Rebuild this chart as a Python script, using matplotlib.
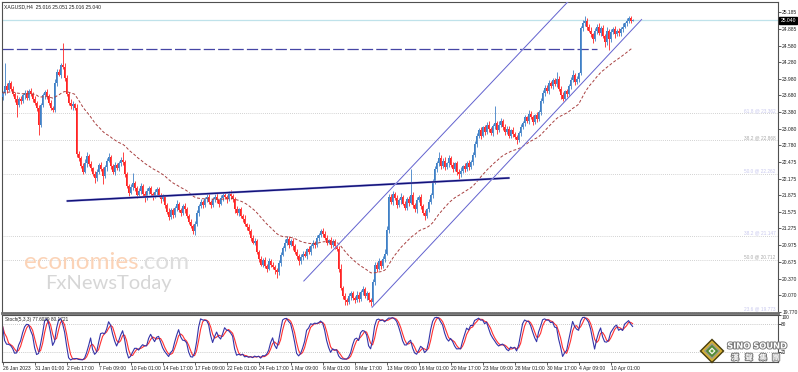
import numpy as np
import pandas as pd
import matplotlib
matplotlib.use('Agg')
import matplotlib.pyplot as plt
import matplotlib.transforms as mtransforms
import matplotlib.patheffects as pe
from matplotlib.patches import Polygon

plt.rcParams['font.family'] = ['Liberation Sans', 'DejaVu Sans']

# XAGUSD H4 candles (open = previous close)
first_open = 23.65
closes = [
    23.72, 23.85, 23.78, 23.90, 23.80, 23.70, 23.62, 23.50, 23.62, 23.58, 23.68, 23.72, 23.64, 23.76, 23.70, 23.62, 23.55,
    23.45, 23.15, 23.50, 23.68, 23.74, 23.66,
    23.55, 23.45, 23.42, 23.90, 24.10, 24.05, 24.22, 24.20, 24.00, 23.70, 23.55, 23.48, 23.52, 23.45,
    22.62,
    22.55, 22.40, 22.30, 22.45, 22.58, 22.44, 22.36, 22.25, 22.18, 22.30, 22.42, 22.35, 22.22, 22.38, 22.50, 22.56,
    22.40, 22.30, 22.42, 22.36, 22.45, 22.52, 22.48,
    22.25, 22.05, 21.92, 22.02,
    22.10, 22.00, 21.88, 21.95, 22.05, 21.90, 21.82, 21.95, 22.00, 21.90, 21.85, 21.93, 21.98, 21.88, 21.80, 21.84,
    21.70, 21.58, 21.48, 21.60, 21.52,
    21.65, 21.72, 21.60, 21.55, 21.68, 21.62, 21.50, 21.40, 21.32, 21.22, 21.35,
    21.55, 21.68, 21.75, 21.70, 21.80, 21.85, 21.75, 21.70, 21.80, 21.85, 21.78, 21.72, 21.82, 21.88, 21.85, 21.80,
    21.90, 21.86, 21.80,
    21.62, 21.55, 21.62, 21.50, 21.45, 21.35, 21.30, 21.22, 21.10, 21.02, 21.05,
    20.85, 20.72, 20.62, 20.70, 20.60, 20.55, 20.68, 20.62, 20.58, 20.52, 20.48, 20.65,
    20.80, 20.92, 21.02, 21.08, 20.98, 21.05, 20.95, 20.85, 20.78,
    20.68, 20.75, 20.82, 20.78, 20.90, 20.85, 20.95, 21.02, 20.98, 21.10,
    21.15, 21.22, 21.18, 21.10, 21.02, 21.06, 20.98, 21.04, 20.95, 20.90,
    20.55, 20.20, 20.05,
    19.98, 19.95, 20.05, 20.10, 20.02, 19.98, 20.08, 20.00, 20.12, 20.18, 20.05, 20.10, 19.98, 19.95,
    20.30, 20.62, 20.55, 20.68, 20.60, 20.72, 20.82,
    21.25, 21.85,
    21.75, 21.90, 21.82, 21.70, 21.78, 21.85, 21.72, 21.65, 21.80, 21.74, 21.88, 21.70, 21.62, 21.78, 21.85, 21.68,
    21.55, 21.50, 21.62, 21.75, 21.88,
    22.10, 22.35, 22.45, 22.55,
    22.40, 22.50, 22.38, 22.45, 22.55, 22.42, 22.35, 22.45, 22.30, 22.25, 22.32,
    22.40, 22.35, 22.45, 22.38, 22.48, 22.60,
    22.80, 22.95, 23.05,
    22.95, 23.10, 23.02, 23.15, 23.08, 23.00, 23.12, 23.18,
    23.05, 23.15, 23.22, 23.10, 23.02, 23.08, 22.95, 23.05, 22.98, 22.92, 22.88, 23.00,
    23.10, 23.18, 23.28, 23.22, 23.35, 23.28, 23.20, 23.32, 23.25, 23.38,
    23.58, 23.72, 23.82,
    23.75, 23.90, 23.85, 23.95, 23.88, 23.98, 23.80,
    23.68, 23.62, 23.75, 23.70,
    23.85, 23.95, 24.05, 23.92, 23.98, 24.08,
    24.90, 24.98, 25.02,
    24.92, 24.85, 24.78, 24.70, 24.85,
    24.92, 24.80, 24.90, 24.75, 24.65, 24.85,
    24.70, 24.82, 24.88, 24.78, 24.85,
    24.80, 24.88, 24.92, 24.98, 25.02,
    25.08, 25.016, 25.040,
]

# wick lengths above / below the body, in cents
wick_hi = [
    4, 41, 5, 6, 3, 5, 4, 6, 3, 5, 4, 6, 5, 3, 6, 4, 5, 3, 6, 4,
    5, 3, 6, 4, 5, 3, 8, 6, 5, 4, 40, 6, 5, 4, 6, 5, 3, 8, 6, 4,
    5, 8, 8, 4, 5, 3, 6, 5, 4, 6, 3, 5, 4, 8, 5, 4, 6, 3, 5, 4,
    14, 4, 5, 3, 6, 17, 4, 5, 6, 4, 3, 5, 6, 4, 5, 3, 6, 4, 5, 3,
    5, 4, 3, 6, 4, 5, 3, 6, 4, 5, 3, 6, 4, 3, 5, 4, 6, 5, 4, 6,
    3, 5, 4, 6, 3, 5, 4, 6, 3, 5, 4, 6, 3, 5, 7, 4, 5, 6, 3, 5,
    4, 6, 3, 5, 4, 6, 5, 4, 3, 6, 4, 5, 3, 6, 4, 5, 3, 4, 6, 5,
    4, 6, 6, 5, 3, 6, 4, 5, 3, 6, 4, 5, 3, 6, 4, 5, 3, 6, 4, 5,
    7, 4, 5, 3, 6, 4, 5, 3, 6, 8, 4, 5, 3, 6, 4, 5, 3, 6, 4, 5,
    6, 4, 5, 3, 4, 6, 5, 4, 6, 3, 5, 8, 6, 5, 4, 6, 3, 5, 4, 6,
    3, 5, 4, 6, 46, 5, 4, 6, 3, 5, 4, 6, 3, 5, 4, 6, 5, 4, 11, 5,
    4, 6, 3, 5, 4, 6, 3, 5, 4, 6, 3, 5, 4, 6, 3, 5, 6, 5, 4, 6,
    3, 5, 4, 6, 3, 5, 30, 4, 6, 5, 3, 6, 4, 5, 3, 6, 4, 5, 3, 6,
    4, 5, 3, 6, 4, 5, 3, 6, 4, 5, 6, 5, 4, 6, 3, 5, 4, 12, 5, 4,
    6, 3, 5, 4, 6, 9, 4, 5, 3, 4, 6, 10, 5, 4, 6, 3, 5, 4, 6, 3,
    5, 4, 6, 3, 5, 4, 6, 3, 5, 4, 6, 3, 5, 4, 3, 1,
]
wick_lo = [
    5, 4, 6, 3, 5, 4, 6, 21, 4, 5, 3, 6, 4, 5, 3, 6, 4, 5, 19, 4,
    3, 6, 4, 5, 3, 5, 4, 6, 3, 5, 4, 6, 3, 5, 4, 6, 3, 5, 6, 4,
    5, 3, 6, 4, 5, 3, 8, 4, 5, 3, 15, 4, 6, 3, 5, 4, 6, 3, 5, 4,
    6, 5, 4, 6, 3, 5, 4, 6, 3, 5, 4, 6, 3, 5, 4, 6, 3, 5, 4, 6,
    3, 5, 4, 6, 3, 5, 4, 6, 3, 5, 4, 6, 3, 5, 4, 5, 6, 3, 5, 4,
    6, 3, 5, 4, 6, 3, 5, 4, 6, 3, 5, 4, 6, 3, 5, 4, 6, 3, 5, 4,
    6, 3, 5, 4, 6, 3, 5, 4, 6, 3, 5, 4, 6, 3, 5, 4, 6, 10, 4, 5,
    3, 6, 4, 5, 3, 6, 4, 5, 6, 4, 5, 3, 6, 4, 5, 3, 6, 4, 5, 3,
    6, 4, 5, 3, 6, 4, 5, 3, 6, 4, 5, 8, 5, 4, 6, 3, 5, 4, 6, 3,
    5, 4, 6, 3, 7, 5, 4, 6, 3, 5, 4, 6, 3, 5, 4, 6, 3, 5, 4, 6,
    3, 5, 4, 6, 3, 5, 4, 6, 3, 5, 4, 8, 3, 5, 4, 6, 3, 5, 4, 6,
    3, 5, 4, 6, 3, 5, 4, 6, 9, 5, 4, 6, 3, 5, 4, 6, 3, 5, 4, 6,
    3, 5, 4, 6, 3, 5, 4, 6, 3, 5, 4, 6, 3, 5, 4, 6, 3, 8, 4, 6,
    3, 5, 4, 6, 3, 5, 4, 6, 3, 5, 4, 6, 3, 5, 4, 6, 3, 5, 4, 6,
    5, 3, 5, 4, 6, 3, 5, 4, 6, 3, 5, 4, 6, 3, 5, 8, 4, 6, 3, 5,
    4, 10, 6, 20, 5, 4, 6, 3, 5, 4, 6, 3, 5, 4, 3, 0,
]

date_ticks = [0, 16, 32, 48, 64, 80, 96, 112, 128, 144, 160, 176, 192, 208, 224, 240, 256, 272, 288, 304]
date_labels = ['26 Jan 2023', '31 Jan 01:00', '2 Feb 17:00', '7 Feb 09:00', '10 Feb 01:00',
               '14 Feb 17:00', '17 Feb 09:00', '22 Feb 01:00', '24 Feb 17:00', '1 Mar 09:00',
               '6 Mar 01:00', '8 Mar 17:00', '13 Mar 09:00', '16 Mar 01:00', '20 Mar 17:00',
               '23 Mar 09:00', '28 Mar 01:00', '30 Mar 17:00', '4 Apr 09:00', '10 Apr 01:00']
price_ticks = [25.185, 24.885, 24.580, 24.280, 23.980, 23.680, 23.380, 23.080, 22.780, 22.475,
               22.175, 21.875, 21.575, 21.275, 20.975, 20.675, 20.370, 20.070, 19.770]
stoch_ticks = [100, 80, 20]

fib_levels = [23.362, 22.868, 22.262, 21.147, 20.712, 19.773]
fib_names = ['61.8', '38.2', '50.0', '38.2', '50.0', '23.6']
fib_colors = ['#c8c8ee', '#a8a8a8', '#c8c8ee', '#c8c8ee', '#a8a8a8', '#c8c8ee']

resistance = 24.51
resistance_end = 297
bid = 25.040
# trend lines: (bar, price) start and end
neck_x, neck_y = [32, 253.5], [21.77, 22.187]
upper_x, upper_y = [150.6, 285], [20.325, 25.46]
lower_x, lower_y = [184.75, 319.5], [19.85, 25.05]

# ---- build OHLC frame
df = pd.DataFrame({'close': closes})
df['open'] = df['close'].shift(1).fillna(first_open)
df['high'] = df[['open', 'close']].max(axis=1) + np.array(wick_hi) / 100
df['low'] = df[['open', 'close']].min(axis=1) - np.array(wick_lo) / 100
idx = np.arange(len(df))

ma = df['close'].ewm(span=40, adjust=False).mean()
hh = df['high'].rolling(5, min_periods=1).max()
ll = df['low'].rolling(5, min_periods=1).min()
k = 100 * (df['close'] - ll).rolling(3, min_periods=1).sum() / (hh - ll).rolling(3, min_periods=1).sum()
d = k.rolling(3, min_periods=1).mean()

W, H = 798, 372
def box(l, t, r, b):
    return [l / W, 1 - b / H, (r - l) / W, (b - t) / H]

fig = plt.figure(figsize=(W / 100, H / 100), dpi=100)
ax = fig.add_axes(box(2, 2, 778, 313))
axs = fig.add_axes(box(2, 314.6, 778, 361.7))
xlim = (-0.3, 387.7)

# ---- main price window
ax.set_xlim(xlim)
ax.set_ylim(19.747, 25.366)
mixed = mtransforms.blended_transform_factory(ax.transAxes, ax.transData)

for lev, nm, col in zip(fib_levels, fib_names, fib_colors):
    ax.axhline(lev, color='#c4c4c4', lw=0.6, ls=(0, (1, 1.5)), zorder=1)
    ax.text(0.997, lev, f'{nm} @ {lev:.3f}', transform=mixed,
            ha='right', va='bottom', fontsize=3.4, color=col, zorder=1)

ax.axhline(bid, color='#bfe2ea', lw=0.9, zorder=1)
ax.plot([xlim[0], resistance_end], [resistance, resistance], color='#4545a5', lw=0.9, dashes=(9, 2.5), zorder=2)

up = df['close'] >= df['open']
cols = np.where(up, '#3f80c6', '#ff2424')
ax.vlines(idx, df['low'], df['high'], colors=cols, lw=0.6, zorder=3)
body_h = (df['close'] - df['open']).abs().clip(lower=0.006)
ax.bar(idx, body_h, bottom=df[['open', 'close']].min(axis=1), width=0.8, color=cols, linewidth=0, zorder=3)

ax.plot(idx, ma, color='#a84040', lw=0.7, dashes=(3, 2), zorder=4)

ax.plot(neck_x, neck_y, color='#b4b4e6', lw=1.7, zorder=5, solid_capstyle='butt')
ax.plot(neck_x, neck_y, color='#12127a', lw=1.1, zorder=5, solid_capstyle='butt')
for xs, ys in [(upper_x, upper_y), (lower_x, lower_y)]:
    ax.plot(xs, ys, color='#c8c8f2', lw=0.9, zorder=5)
    ax.plot(xs, ys, color='#4a4ac4', lw=0.45, zorder=5)

ax.set_xticks([])
ax.yaxis.tick_right()
ax.set_yticks(price_ticks)
ax.set_yticklabels([f'{p:.3f}' for p in price_ticks])
ax.tick_params(axis='y', length=2, width=0.5, pad=1, labelsize=3.6, colors='#202020')
ax.text(1.003, bid, f'{bid:.3f}', transform=mixed,
        ha='left', va='center', fontsize=3.6, color='white',
        bbox=dict(boxstyle='square,pad=0.2', fc='black', ec='black'), clip_on=False, zorder=10)
ax.text(0.003, 0.992, 'XAGUSD,H4  25.016 25.051 25.016 25.040', transform=ax.transAxes,
        ha='left', va='top', fontsize=3.6, color='#202020')

for s in ['left', 'top', 'right']:
    ax.spines[s].set_color('#505050')
    ax.spines[s].set_linewidth(0.8)
ax.spines['bottom'].set_color('#707070')
ax.spines['bottom'].set_linewidth(2.0)

# ---- stochastic window
axs.set_xlim(xlim)
axs.set_ylim(0, 100)
axs.axhline(80, color='#b8b8b8', lw=0.6, ls=(0, (1, 1.5)))
axs.axhline(20, color='#b8b8b8', lw=0.6, ls=(0, (1, 1.5)))
axs.plot(idx, d, color='#ff3030', lw=0.8)
axs.plot(idx, k, color='#3434a8', lw=0.8)
axs.yaxis.tick_right()
axs.set_yticks(stoch_ticks)
axs.set_yticklabels([])
axs.tick_params(axis='y', length=2, width=0.5)
smixed = mtransforms.blended_transform_factory(axs.transAxes, axs.transData)
for v in stoch_ticks:
    axs.text(1.004, v, str(v), transform=smixed, ha='left', va='top' if v == 100 else 'center',
             fontsize=3.4, color='#202020', clip_on=False)
axs.set_xticks(date_ticks)
axs.set_xticklabels(date_labels, ha='left')
axs.tick_params(axis='x', length=2, width=0.5, pad=1.2, labelsize=3.6, colors='#202020')
axs.text(0.004, 0.95, 'Stoch(5,3,3) 77.6039 80.1721', transform=axs.transAxes,
         ha='left', va='top', fontsize=3.4, color='#202020')
for s in axs.spines.values():
    s.set_color('#505050')
    s.set_linewidth(0.8)

# ---- watermarks and logo (pixel overlay)
ov = fig.add_axes([0, 0, 1, 1], zorder=20)
ov.set_xlim(0, W)
ov.set_ylim(H, 0)
ov.axis('off')
ov.patch.set_alpha(0)
t_eco = ov.text(24, 269, 'economies', fontsize=17.5, family='Lato', color='#fbcfb0', va='baseline', ha='left', alpha=0.9)
fig.canvas.draw()
bb = t_eco.get_window_extent()
eco_end = ov.transData.inverted().transform((bb.x1, bb.y0))[0]
ov.text(eco_end, 269, '.com', fontsize=17.5, family='Lato', color='#dadada', va='baseline', ha='left', alpha=0.9)
ov.text(45, 289, 'FxNewsToday', fontsize=14.5, family='Lato', color='#d2d2d2', va='baseline', ha='left', alpha=0.9)

cx, cy = 712, 351
for r, c in [(12.5, '#4a3e0c'), (10.5, '#d8b234'), (8.2, '#9c9a86'), (6.2, '#4f8a34'), (3.6, '#f4f4e6'), (1.8, '#5c9a3c')]:
    ov.add_patch(Polygon([[cx, cy - r], [cx + r, cy], [cx, cy + r], [cx - r, cy]], closed=True, fc=c, ec='none'))
stroke = [pe.withStroke(linewidth=1.4, foreground='#7a7a7a')]
ov.text(757, 346, 'SINO SOUND', fontsize=6.0, weight='bold', color='white', ha='center', va='center',
        path_effects=stroke, family='DejaVu Sans')
for x, ch in zip([735, 749, 763, 776], ['漢', '聲', '集', '團']):
    ov.text(x, 357.5, ch, fontsize=5.5, color='white', ha='center', va='center',
            path_effects=stroke, family=['Noto Sans CJK TC', 'DejaVu Sans'], weight='bold')

fig.savefig('out.png', dpi=100, facecolor='white')
